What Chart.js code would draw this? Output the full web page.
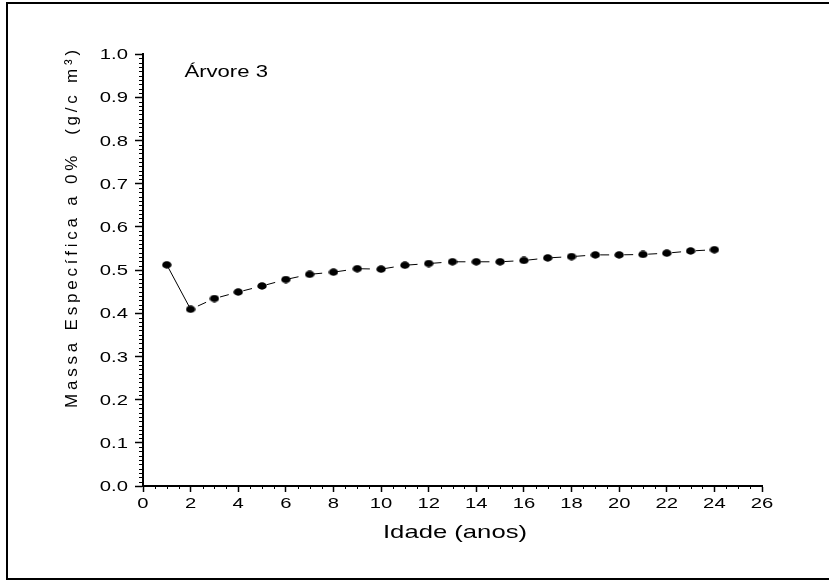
<!DOCTYPE html>
<html>
<head>
<meta charset="utf-8">
<script src="https://cdn.jsdelivr.net/npm/chart.js@4"></script>
<style>
  html, body { margin: 0; padding: 0; background: #fff; }
  #wrap { width: 829px; height: 581px; position: relative; }
</style>
</head>
<body>
<div id="wrap"><canvas id="chart" width="829" height="581"></canvas></div>
<script>
// idade (anos) e massa especifica (g/cm3) - Arvore 3
const ages = [1, 2, 3, 4, 5, 6, 7, 8, 9, 10, 11, 12, 13, 14, 15, 16, 17, 18, 19, 20, 21, 22, 23, 24];
const density = [0.512, 0.409, 0.434, 0.449, 0.463, 0.478, 0.490, 0.495, 0.503, 0.502, 0.511, 0.515,
                 0.519, 0.519, 0.519, 0.522, 0.528, 0.531, 0.535, 0.535, 0.536, 0.539, 0.544, 0.547];
const xTicks = [0, 2, 4, 6, 8, 10, 12, 14, 16, 18, 20, 22, 24, 26];
const yTicks = [0.0, 0.1, 0.2, 0.3, 0.4, 0.5, 0.6, 0.7, 0.8, 0.9, 1.0];

const treeLabel = 'Árvore 3';
const xTitle = 'Idade (anos)';
const yTitle = 'Massa Específica a 0%  (g/c m³)';

const FONT = '"Liberation Sans", Arial, sans-serif';
const STRETCH = 1.35;   // the original glyphs are drawn wide

// elliptical marker like the original plot
const marker = document.createElement('canvas');
marker.width = 10; marker.height = 8;
(function () {
    const c = marker.getContext('2d');
    c.fillStyle = '#000';
    c.beginPath();
    c.ellipse(5, 4, 4.7, 3.7, 0, 0, Math.PI * 2);
    c.fill();
})();

function wideText(ctx, text, x, y, align, sx) {
    ctx.save();
    ctx.translate(x, y);
    ctx.scale(sx, 1);
    ctx.textAlign = align;
    ctx.fillText(text, 0, 0);
    ctx.restore();
}

// minor ticks, tick labels, titles, label and frame
const decor = {
    id: 'decor',
    afterDraw(chart) {
        const ctx = chart.ctx;
        const xs = chart.scales.x, ys = chart.scales.y;
        const area = chart.chartArea;
        ctx.save();
        ctx.strokeStyle = '#000';
        ctx.lineWidth = 1;
        // y minor ticks every 0.01
        for (let i = 0; i <= 100; i++) {
            if (i % 10 === 0) continue;
            const py = Math.round(ys.getPixelForValue(i / 100)) + 0.5;
            ctx.beginPath();
            ctx.moveTo(area.left - 4, py);
            ctx.lineTo(area.left, py);
            ctx.stroke();
        }
        // x minor ticks every 0.5
        for (let i = 0; i <= 52; i++) {
            if (i % 4 === 0) continue;
            const px = Math.round(xs.getPixelForValue(i / 2)) + 0.5;
            ctx.beginPath();
            ctx.moveTo(px, area.bottom);
            ctx.lineTo(px, area.bottom + 3);
            ctx.stroke();
        }

        ctx.fillStyle = '#000';
        ctx.textBaseline = 'middle';
        // tick labels
        ctx.font = '15px ' + FONT;
        xs.ticks.forEach(t => {
            wideText(ctx, String(t.value), xs.getPixelForValue(t.value), area.bottom + 18, 'center', STRETCH);
        });
        ys.ticks.forEach(t => {
            wideText(ctx, t.value.toFixed(1), area.left - 15, ys.getPixelForValue(t.value) + 1, 'right', STRETCH);
        });

        // tree label
        ctx.font = '17px ' + FONT;
        wideText(ctx, treeLabel, xs.getPixelForValue(1.74), ys.getPixelForValue(0.957), 'left', 1.3);

        // x title
        ctx.font = '19px ' + FONT;
        wideText(ctx, xTitle, 455, 533, 'center', STRETCH);

        // y title (spread letters)
        ctx.save();
        ctx.translate(72, 227);
        ctx.rotate(-Math.PI / 2);
        ctx.font = '17px ' + FONT;
        const natural = ctx.measureText(yTitle).width;
        const spacing = (358 - natural) / (yTitle.length - 1);
        ctx.letterSpacing = spacing.toFixed(2) + 'px';
        ctx.textAlign = 'center';
        ctx.fillText(yTitle, 0, 0);
        ctx.restore();

        // outer frame
        ctx.lineWidth = 2;
        ctx.strokeRect(7, 3, 840, 576);
        ctx.restore();
    }
};

new Chart(document.getElementById('chart'), {
    type: 'scatter',
    data: {
        datasets: [{
            data: ages.map((a, i) => ({ x: a, y: density[i] })),
            showLine: true,
            borderColor: '#000',
            borderWidth: 1,
            borderDash: [9, 15],
            borderDashOffset: 16,
            segment: {
                borderDash: c => c.p0DataIndex === 0 ? [] : [9, 15]
            },
            pointStyle: marker,
            pointRadius: 4,
            pointHoverRadius: 4,
            backgroundColor: '#000'
        }]
    },
    options: {
        responsive: false,
        animation: false,
        events: [],
        layout: { padding: { top: 54, right: 67, bottom: 0, left: 0 } },
        plugins: { legend: { display: false }, tooltip: { enabled: false } },
        scales: {
            x: {
                type: 'linear',
                min: 0, max: 26,
                afterBuildTicks: s => { s.ticks = xTicks.map(v => ({ value: v })); },
                afterFit: s => { s.height = 95; },
                ticks: { display: false },
                grid: { drawOnChartArea: false, drawTicks: true, tickLength: 6, tickColor: '#000', tickWidth: 1.5 },
                border: { color: '#000', width: 2 }
            },
            y: {
                min: 0, max: 1,
                afterBuildTicks: s => { s.ticks = yTicks.map(v => ({ value: v })); },
                afterFit: s => { s.width = 143; },
                ticks: { display: false },
                grid: { drawOnChartArea: false, drawTicks: true, tickLength: 8, tickColor: '#000', tickWidth: 1.5 },
                border: { color: '#000', width: 2 }
            }
        }
    },
    plugins: [decor]
});
</script>
</body>
</html>
